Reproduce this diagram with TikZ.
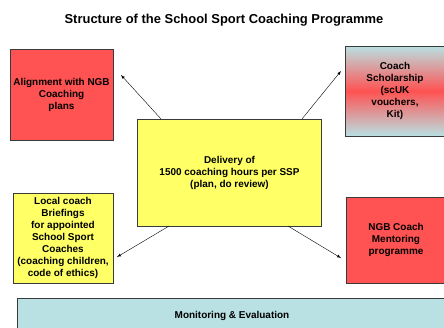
\documentclass[tikz,border=0pt]{standalone}
\usepackage{fontspec}
\setmainfont{Liberation Sans}
\usetikzlibrary{arrows,calc,positioning}

\definecolor{boxred}{HTML}{FF5252}
\definecolor{boxyellow}{HTML}{FFFF66}
\definecolor{boxcyan}{HTML}{B9E0E2}
\definecolor{boxline}{HTML}{3A3A3A}

\tikzset{
  box/.style={draw=boxline,line width=0.6pt,rectangle,align=center,
    font=\bfseries\fontsize{10}{12}\selectfont,inner sep=1pt},
  redbox/.style={box,fill=boxred},
  yellowbox/.style={box,fill=boxyellow},
}

\begin{document}
\begin{tikzpicture}[x=1bp,y=1bp,every edge/.append style={-latex,thin}]
    \useasboundingbox (0,0) rectangle (444,327);
    \clip (0,0) rectangle (444,327);

    \node at (224,307) (title) {\bfseries\fontsize{13}{15}\selectfont Structure of the School Sport Coaching Programme};

    \node at (61.5,232.5) [redbox,minimum width=103,minimum height=91]
      (ngb) {Alignment with NGB\\Coaching\\plans};
    \node at (395,236) [box,minimum width=100,minimum height=90,
      top color=boxcyan,bottom color=boxcyan,middle color=boxred]
      (scholar) {Coach\\Scholarship\\(scUK\\vouchers,\\Kit)};
    \node at (229.5,154.5) [yellowbox,minimum width=185,minimum height=107]
      (delivery) {Delivery of\\1500 coaching hours per SSP\\(plan, do review)};
    \node at (63,89) [yellowbox,minimum width=100,minimum height=90]
      (briefing) {Local coach\\Briefings\\for appointed\\School Sport\\Coaches\\(coaching children,\\code of ethics)};
    \node at (396,87) [redbox,minimum width=100,minimum height=86]
      (mentor) {NGB Coach\\Mentoring\\programme};
    \node at (232,11) [box,fill=boxcyan,minimum width=432,minimum height=36]
      (monitor) {Monitoring \& Evaluation};

    % free ends of the arrows
    \coordinate (toNgb) at (121,252);
    \coordinate (toScholar) at (341,256);
    \coordinate (toBriefing) at (117,70);
    \coordinate (toMentor) at (341,69);

    \path ([xshift=24] delivery.north west) edge (toNgb);
    \path ([xshift=-20] delivery.north east) edge (toScholar);
    \path ([xshift=32] delivery.south west) edge (toBriefing);
    \path ([xshift=-34] delivery.south east) edge (toMentor);
\end{tikzpicture}
\end{document}
